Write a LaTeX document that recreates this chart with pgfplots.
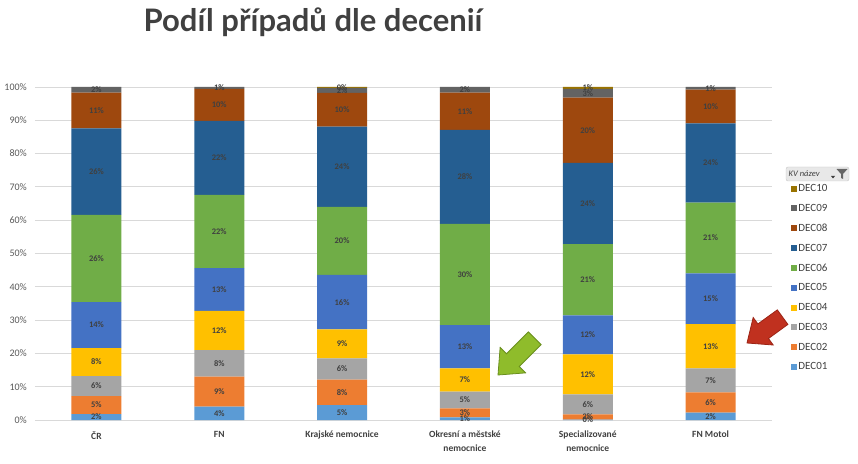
\documentclass[border=0pt]{standalone}
\usepackage{pgfplots}
\usepackage{pgfplotstable}
\pgfplotsset{compat=1.18}
\usepackage{fontspec}
\setmainfont{Carlito}
\newfontfamily\titlefont{Lato}
\definecolor{c01}{HTML}{5B9BD5}
\definecolor{c02}{HTML}{ED7D31}
\definecolor{c03}{HTML}{A5A5A5}
\definecolor{c04}{HTML}{FFC000}
\definecolor{c05}{HTML}{4472C4}
\definecolor{c06}{HTML}{70AD47}
\definecolor{c07}{HTML}{255E91}
\definecolor{c08}{HTML}{9E480E}
\definecolor{c09}{HTML}{636363}
\definecolor{c10}{HTML}{997300}
\definecolor{txt}{HTML}{404040}
\definecolor{tick}{HTML}{595959}
\definecolor{gridc}{HTML}{D9D9D9}
\pgfplotstableread{
x DEC01 DEC02 DEC03 DEC04 DEC05 DEC06 DEC07 DEC08 DEC09 DEC10
0 1.8 5.4 6.0 8.4 13.8 26.2 26.0 10.7 1.7 0.0
1 4.0 9.0 8.0 11.8 12.8 22.0 22.2 9.6 0.6 0.0
2 4.5 7.6 6.4 8.7 16.4 20.4 24.1 10.1 1.5 0.3
3 0.8 2.7 5.0 7.0 13.0 30.4 28.2 11.2 1.7 0.0
4 0.1 1.6 6.0 12.0 11.7 21.4 24.4 19.6 2.6 0.6
5 2.2 6.1 7.2 13.3 15.2 21.3 23.8 10.1 0.8 0.0
}\data
\newcommand{\serie}[2]{\addplot[fill=#2, draw=none] table[x=x,y=#1,meta=#1]{\data};\addlegendentry{#1}}
\begin{document}
\begin{tikzpicture}
\begin{axis}[
  at={(35pt,43pt)}, anchor=south west,
  scale only axis, width=737pt, height=333pt,
  ybar stacked, bar width=50pt,
  xmin=-0.5, xmax=5.5, ymin=0, ymax=100,
  xtick=data,
  xticklabels={ČR, FN, Krajské nemocnice, Okresní a městské\\nemocnice, Specializované\\nemocnice, FN Motol},
  ytick={0,10,...,100},
  yticklabel={\pgfmathprintnumber{\tick}\%},
  /pgf/number format/assume math mode=true,
  ymajorgrids, grid style={gridc, line width=0.8pt},
  axis line style={draw=none},
  major tick length=0pt, tick style={draw=none},
  yticklabel style={font=\fontsize{10}{12}\selectfont, text=tick, inner sep=0pt, xshift=-8pt},
  xticklabel style={font=\bfseries\fontsize{9.5}{14}\selectfont, text=txt, inner sep=0pt, yshift=-11pt, align=center, anchor=north},
  point meta=explicit,
  nodes near coords={\pgfmathprintnumber[fixed,precision=0]{\pgfplotspointmeta}\%},
  every node near coord/.append style={font=\bfseries\fontsize{8.5}{10}\selectfont, text=txt, anchor=center, inner sep=0pt},
  reverse legend,
  legend cell align=left,
  legend style={at={(1.0217,0.718)}, anchor=north west, draw=none, fill=none,
    font=\fontsize{11}{12}\selectfont, text=txt, row sep=8.7pt,
    nodes={inner sep=1.2pt}},
  legend image code/.code={\fill[#1] (0pt,-3pt) rectangle (6pt,3pt);},
  clip=false,
]
\serie{DEC01}{c01}
\serie{DEC02}{c02}
\serie{DEC03}{c03}
\serie{DEC04}{c04}
\serie{DEC05}{c05}
\serie{DEC06}{c06}
\serie{DEC07}{c07}
\serie{DEC08}{c08}
\serie{DEC09}{c09}
\serie{DEC10}{c10}
\end{axis}
% title
\node[anchor=base, text=txt, font=\titlefont\bfseries\fontsize{31}{34}\selectfont] at (313pt,431pt) {Podíl případů dle decenií};
% filter button
\draw[rounded corners=2pt, fill=black!9, draw=black!22] (786pt,282pt) rectangle (849pt,296pt);
\node[anchor=west, text=txt, font=\itshape\fontsize{8.5}{9}\selectfont, inner sep=0pt] at (788.5pt,289pt) {KV název};
\fill[txt] (831pt,287pt) -- (835pt,287pt) -- (833pt,284.5pt) -- cycle;
\fill[black!60] (836.5pt,294pt) -- (847.5pt,294pt) -- (843pt,289pt) -- (843pt,284pt) -- (841pt,285pt) -- (841pt,289pt) -- cycle;
% green arrow
\begin{scope}[shift={(498pt,88pt)}, rotate=45]
\filldraw[fill={rgb,255:red,143;green,188;blue,43}, draw={rgb,255:red,106;green,143;blue,30}, line width=0.8pt]
 (0,0) -- (21pt,18pt) -- (21pt,9pt) -- (52pt,9pt) -- (52pt,-9pt) -- (21pt,-9pt) -- (21pt,-18pt) -- cycle;
\end{scope}
% red arrow
\begin{scope}[shift={(747pt,120pt)}, rotate=36]
\filldraw[fill={rgb,255:red,192;green,49;blue,31}, draw={rgb,255:red,156;green,36;blue,21}, line width=0.8pt]
 (0,0) -- (20pt,17pt) -- (20pt,9pt) -- (44pt,9pt) -- (44pt,-9pt) -- (20pt,-9pt) -- (20pt,-17pt) -- cycle;
\end{scope}
\pgfresetboundingbox
\path (0pt,0pt) rectangle (858pt,463pt);
\end{tikzpicture}
\end{document}
